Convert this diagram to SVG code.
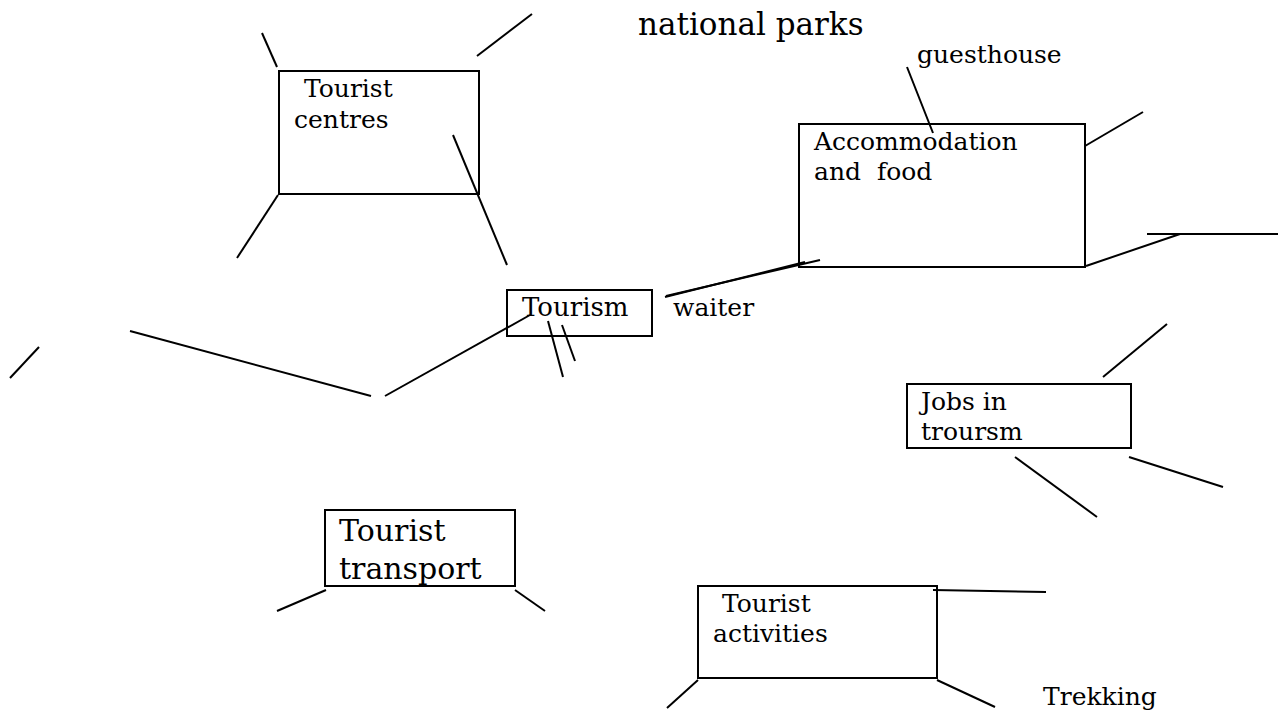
<svg xmlns="http://www.w3.org/2000/svg" width="1285" height="712" viewBox="0 0 1285 712">
<style>
.box{fill:none;stroke:#000;stroke-width:2}
.ln{stroke:#000;stroke-width:2;fill:none}
text{font-family:"DejaVu Serif","Liberation Serif",serif;font-size:25px;fill:#000}
.big{font-size:30px}
</style>
<rect width="1285" height="712" fill="#fff"/>
<g id="connectors">
<line class="ln" x1="262" y1="33" x2="277" y2="67"/>
<line class="ln" x1="532" y1="14" x2="477" y2="56"/>
<line class="ln" x1="278" y1="195" x2="237" y2="258"/>
<line class="ln" x1="453" y1="135" x2="507" y2="265"/>
<line class="ln" x1="907" y1="67" x2="933" y2="133"/>
<line class="ln" x1="1085" y1="146" x2="1143" y2="112"/>
<line class="ln" x1="1086" y1="266" x2="1180" y2="234"/>
<line class="ln" x1="1147" y1="234" x2="1278" y2="234"/>
<line class="ln" x1="665" y1="297" x2="805" y2="262"/>
<line class="ln" x1="666" y1="296" x2="820" y2="260"/>
<line class="ln" x1="530" y1="315" x2="385" y2="396"/>
<line class="ln" x1="130" y1="331" x2="371" y2="396"/>
<line class="ln" x1="10" y1="378" x2="39" y2="347"/>
<line class="ln" x1="548" y1="321" x2="563" y2="377"/>
<line class="ln" x1="562" y1="325" x2="575" y2="361"/>
<line class="ln" x1="326" y1="590" x2="277" y2="611"/>
<line class="ln" x1="515" y1="590" x2="545" y2="611"/>
<line class="ln" x1="1103" y1="377" x2="1167" y2="324"/>
<line class="ln" x1="1015" y1="457" x2="1097" y2="517"/>
<line class="ln" x1="1129" y1="457" x2="1223" y2="487"/>
<line class="ln" x1="933" y1="590" x2="1046" y2="592"/>
<line class="ln" x1="698" y1="680" x2="667" y2="708"/>
<line class="ln" x1="937" y1="680" x2="995" y2="707"/>
</g>
<g id="national-parks"><text x="638" y="35" style="font-size:31px">national parks</text></g>
<g id="tourist-centres">
<rect class="box" x="279" y="71" width="200" height="123"/>
<text x="304" y="97">Tourist</text>
<text x="294" y="128">centres</text>
</g>
<g id="accommodation">
<rect class="box" x="799" y="124" width="286" height="143"/>
<text x="814" y="150">Accommodation</text>
<text x="814" y="180" xml:space="preserve">and  food</text>
</g>
<g id="guesthouse"><text x="917" y="63">guesthouse</text></g>
<g id="tourism">
<rect class="box" x="507" y="290" width="145" height="46"/>
<text x="522" y="316" style="font-size:26px">Tourism</text>
</g>
<g id="waiter"><text x="673" y="316">waiter</text></g>
<g id="jobs">
<rect class="box" x="907" y="384" width="224" height="64"/>
<text x="921" y="410">Jobs in</text>
<text x="921" y="440">troursm</text>
</g>
<g id="tourist-transport">
<rect class="box" x="325" y="510" width="190" height="76"/>
<text class="big" x="339" y="541">Tourist</text>
<text class="big" x="339" y="579">transport</text>
</g>
<g id="tourist-activities">
<rect class="box" x="698" y="586" width="239" height="92"/>
<text x="722" y="612">Tourist</text>
<text x="713" y="642">activities</text>
</g>
<g id="trekking"><text x="1043" y="705">Trekking</text></g>
</svg>
